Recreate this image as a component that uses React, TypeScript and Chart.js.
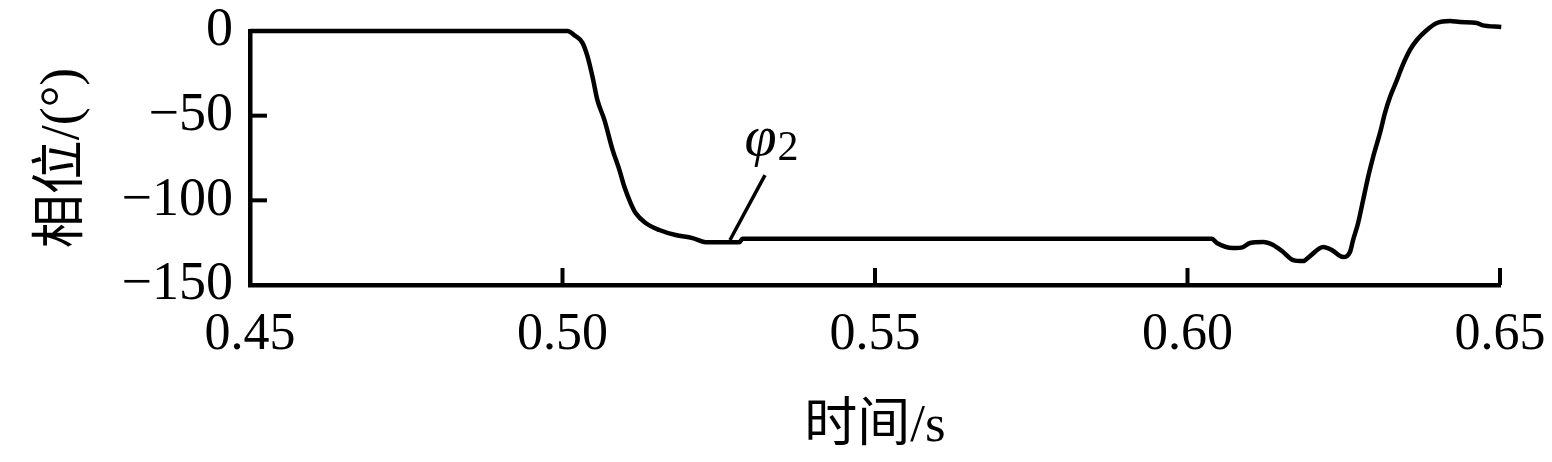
import React, { useEffect, useRef } from "react";
import { Chart, registerables } from "chart.js";

Chart.register(...registerables);

// Time (s) and phase (°) samples
const TIME = [
  0.45, 0.5008, 0.5019, 0.5032, 0.504, 0.5048, 0.5056, 0.5067, 0.508, 0.5091,
  0.5099, 0.5109, 0.5117, 0.5133, 0.5155, 0.5181, 0.5208, 0.5229, 0.5283, 0.5288,
  0.6039, 0.6047, 0.6073, 0.6089, 0.61, 0.6121, 0.6137, 0.6153, 0.6169, 0.6185,
  0.6196, 0.6217, 0.6231, 0.6249, 0.626, 0.6265, 0.6273, 0.6281, 0.6289, 0.6297,
  0.6308, 0.6316, 0.6324, 0.6335, 0.6343, 0.6356, 0.6367, 0.6383, 0.6399, 0.642,
  0.6436, 0.6463, 0.6471, 0.6502,
];
const PHASE = [
  0, 0, -2.5, -7, -15, -27, -41, -52.5, -70, -82,
  -92, -101.6, -107.5, -113.4, -117.5, -120.5, -122.3, -124.7, -124.7, -122.7,
  -122.7, -125.2, -128.2, -127.6, -125.2, -124.6, -126.4, -130.5, -135.3, -135.9,
  -132.9, -127.6, -129.4, -133.5, -130.5, -123.4, -113.4, -99.8, -86.2, -74.4,
  -60.2, -48.4, -39, -29, -21.3, -11.2, -5.3, 0.6, 4.7, 5.9,
  5.3, 4.7, 3.5, 2.4,
];

const X_MIN = 0.45;
const X_MAX = 0.65;
const X_STEP = 0.05;
const Y_MIN = -150;
const Y_MAX = 0;
const Y_STEP = 50;

const X_TITLE = "时间/s";
const Y_TITLE = "相位/(°)";
const CURVE_LABEL = "φ";
const CURVE_LABEL_SUB = "2";

// annotation anchor (data coords): label position, leader line ends
const LABEL_AT = [0.5291, -73];
const LEADER_FROM = [0.5324, -85.1];
const LEADER_TO = [0.5268, -123.4];

const SERIF = "'Liberation Serif', 'Times New Roman', 'Noto Sans CJK SC', serif";

const innerTicksAndLabel = {
  id: "innerTicksAndLabel",
  afterDatasetsDraw(chart: any) {
    const { ctx, scales } = chart;
    const xs = scales.x;
    const ys = scales.y;
    const area = chart.chartArea;
    ctx.save();
    ctx.strokeStyle = "#000";
    ctx.lineWidth = 4;
    ctx.lineCap = "butt";
    xs.ticks.forEach((t: any) => {
      const px = xs.getPixelForValue(t.value);
      ctx.beginPath();
      ctx.moveTo(px, area.bottom);
      ctx.lineTo(px, area.bottom - 17);
      ctx.stroke();
    });
    ys.ticks.forEach((t: any) => {
      const py = ys.getPixelForValue(t.value);
      ctx.beginPath();
      ctx.moveTo(area.left, py);
      ctx.lineTo(area.left + 17, py);
      ctx.stroke();
    });
    // leader line
    ctx.lineWidth = 3.5;
    ctx.beginPath();
    ctx.moveTo(xs.getPixelForValue(LEADER_FROM[0]), ys.getPixelForValue(LEADER_FROM[1]));
    ctx.lineTo(xs.getPixelForValue(LEADER_TO[0]), ys.getPixelForValue(LEADER_TO[1]));
    ctx.stroke();
    // label
    ctx.fillStyle = "#000";
    ctx.textBaseline = "alphabetic";
    ctx.textAlign = "left";
    const lx = xs.getPixelForValue(LABEL_AT[0]);
    const ly = ys.getPixelForValue(LABEL_AT[1]);
    ctx.font = `italic 58px ${SERIF}`;
    ctx.fillText(CURVE_LABEL, lx, ly);
    const w = ctx.measureText(CURVE_LABEL).width;
    ctx.font = `42px ${SERIF}`;
    ctx.fillText(CURVE_LABEL_SUB, lx + w + 1, ly + 5);
    ctx.restore();
  },
};

export default function App() {
  const ref = useRef<HTMLCanvasElement>(null);
  useEffect(() => {
    document.body.style.margin = "0";
    const canvas = ref.current!;
    const chart = new Chart(canvas, {
      type: "line",
      data: {
        datasets: [
          {
            data: TIME.map((t, i) => ({ x: t, y: PHASE[i] })),
            borderColor: "#000",
            borderWidth: 4.5,
            pointRadius: 0,
            cubicInterpolationMode: "monotone",
            fill: false,
            clip: false as any,
          },
        ],
      },
      options: {
        animation: false,
        responsive: false,
        maintainAspectRatio: false,
        events: [],
        layout: { padding: { left: 0, right: 52, top: 31, bottom: 0 } },
        plugins: { legend: { display: false }, tooltip: { enabled: false } },
        scales: {
          x: {
            type: "linear",
            min: X_MIN,
            max: X_MAX,
            grid: { display: false, drawTicks: false },
            border: { display: true, color: "#000", width: 4.5 },
            ticks: {
              stepSize: X_STEP,
              color: "#000",
              padding: 24,
              maxRotation: 0,
              autoSkip: false,
              font: { family: SERIF, size: 52, lineHeight: 1 },
              callback: (v: any) => Number(v).toFixed(2),
            },
            title: {
              display: true,
              text: X_TITLE,
              color: "#000",
              font: { family: SERIF, size: 53, lineHeight: 1.2 },
              padding: { top: 0, bottom: 3 },
            },
            afterFit: (s: any) => {
              s.height = 177;
              s.paddingLeft = 0;
              s.paddingRight = 0;
            },
          },
          y: {
            type: "linear",
            min: Y_MIN,
            max: Y_MAX,
            grid: { display: false, drawTicks: false },
            border: { display: true, color: "#000", width: 4.5 },
            ticks: {
              stepSize: Y_STEP,
              color: "#000",
              padding: 17,
              font: { family: SERIF, size: 54, lineHeight: 1 },
              callback: (v: any) => (Number(v) < 0 ? "−" + Math.abs(Number(v)) : String(v)),
            },
            title: {
              display: true,
              text: Y_TITLE,
              color: "#000",
              font: { family: SERIF, size: 54, lineHeight: 1.2 },
              padding: { top: 31, bottom: 0 },
            },
            afterFit: (s: any) => {
              s.width = 250;
              s.paddingTop = 0;
              s.paddingBottom = 0;
            },
          },
        },
      },
      plugins: [innerTicksAndLabel],
    });
    return () => chart.destroy();
  }, []);
  return (
    <div style={{ width: 1552, height: 462, background: "#fff" }}>
      <canvas ref={ref} width={1552} height={462} style={{ width: 1552, height: 462, display: "block" }} />
    </div>
  );
}
